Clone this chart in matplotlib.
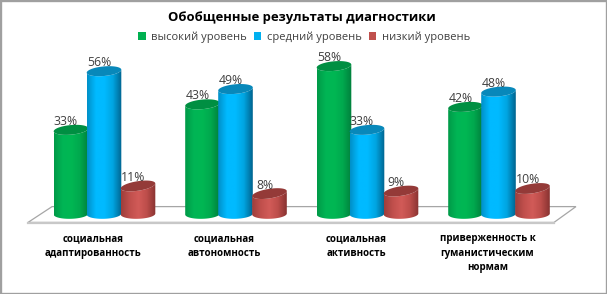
import numpy as np
import matplotlib
matplotlib.use("Agg")
import matplotlib.pyplot as plt
from matplotlib.colors import LinearSegmentedColormap
from matplotlib.patches import Patch, PathPatch, Polygon, Rectangle
from matplotlib.path import Path

plt.rcParams['font.family'] = ['Open Sans', 'DejaVu Sans']

# Values
categories = ["социальная\nадаптированность", "социальная\nавтономность",
              "социальная\nактивность", "приверженность к\nгуманистическим\nнормам"]
high = [33, 43, 58, 42]
medium = [56, 49, 33, 48]
low = [11, 8, 9, 10]
series_names = ["высокий уровень", "средний уровень", "низкий уровень"]
title = "Обобщенные результаты диагностики"

legend_colors = ["#00B050", "#00B0F0", "#C0504D"]
side_colors = [["#009A48", "#00B555", "#00B753", "#00A84E", "#007F3C"],
               ["#0090C8", "#00BAFF", "#00BAFF", "#00A4E0", "#00648F"],
               ["#9E3E3B", "#C04F4C", "#D25B58", "#BC4D4A", "#883331"]]
top_colors = ["#008F42", "#0888BA", "#943A38"]
tilts = [1.5, 1.5, 2.5]

# scale of the plot in pixels
W, H = 607, 294
PX_CAT = 131.5
PX_PCT = 2.55
X0, Y0 = 104, 214
dx = 1 / PX_CAT
dy = 1 / PX_PCT

fig = plt.figure(figsize=(W / 100, H / 100), dpi=100)
ax = fig.add_axes([0, 0, 1, 1])
ax.axis("off")
xlim = (-X0 * dx, (W - X0) * dx)
ylim = ((Y0 - H) * dy, Y0 * dy)

# floor of the 3d chart
ax.add_patch(Polygon([(-0.578, -3.3), (3.422, -3.3), (3.589, 2.9), (-0.395, 2.9)],
                     closed=True, fc="white", ec="#A6A6A6", lw=0.9, zorder=1))
ax.plot([-0.578, 3.422], [-3.5, -3.5], color="#C8C8C8", lw=1.6, zorder=1)


def ellipse(cx, cy, rx, ry, tilt, t):
    return cx + rx * np.cos(t), cy + ry * np.sin(t) + tilt * np.cos(t)


def cylinder(cx, value, s, z):
    rx = 17.3 * dx
    ry = 4.8 * dy
    tilt = tilts[s] * dy
    t_front = np.linspace(0, -np.pi, 60)
    bx, by = ellipse(cx, 0, rx, ry, 0.5 * dy, t_front)
    tx, ty = ellipse(cx, value, rx, ry, tilt, t_front[::-1])
    verts = np.vstack([np.column_stack([bx, by]), np.column_stack([tx, ty])])
    body = PathPatch(Path(np.vstack([verts, verts[0]])), fc="none", ec="none", zorder=z)
    ax.add_patch(body)
    cmap = LinearSegmentedColormap.from_list("c", side_colors[s])
    img = ax.imshow(np.linspace(0, 1, 64).reshape(1, -1), cmap=cmap, aspect="auto", interpolation="bilinear",
                    extent=(cx - rx, cx + rx, -10, value + 10), zorder=z)
    img.set_clip_path(body)
    t = np.linspace(0, 2 * np.pi, 80)
    ex, ey = ellipse(cx, value, rx, ry, tilt, t)
    ax.fill(ex, ey, color=top_colors[s], lw=0, zorder=z + 0.1)


centers = np.arange(len(categories))
offsets = [-33 * dx, 0, 34 * dx]
z = 2
for i, name in enumerate(categories):
    for s, values in enumerate([high, medium, low]):
        cx = centers[i] + offsets[s]
        cylinder(cx, values[i], s, z)
        ax.annotate(f"{values[i]}%", (cx, values[i]), xytext=(-3.6, 1.5), textcoords="offset points",
                    ha="center", va="bottom", fontsize=8.8, color="#404040", zorder=50)
        z += 1
    ax.text(centers[i] - 11 * dx, -7.6, name, ha="center", va="top", fontsize=7.0,
            fontweight="bold", color="black", linespacing=1.42)

ax.set_xlim(xlim)
ax.set_ylim(ylim)

fig.text(302 / W, 1 - 18 / H, title, ha="center", va="center", fontsize=9.4, fontweight="bold", color="black")
handles = [Patch(fc=c, ec="none") for c in legend_colors]
fig.legend(handles, series_names, ncol=3, loc="center", bbox_to_anchor=(304 / W, 1 - 37 / H),
           frameon=False, fontsize=8.0, handlelength=0.7, handleheight=0.7, handletextpad=0.5,
           columnspacing=0.6, labelcolor="#404040", borderpad=0)

# picture border
fig.add_artist(Rectangle((0, 0), 1, 1, transform=fig.transFigure, fc="none", ec="#A0A0A0", lw=2.4))

fig.savefig("out.png", dpi=100)
